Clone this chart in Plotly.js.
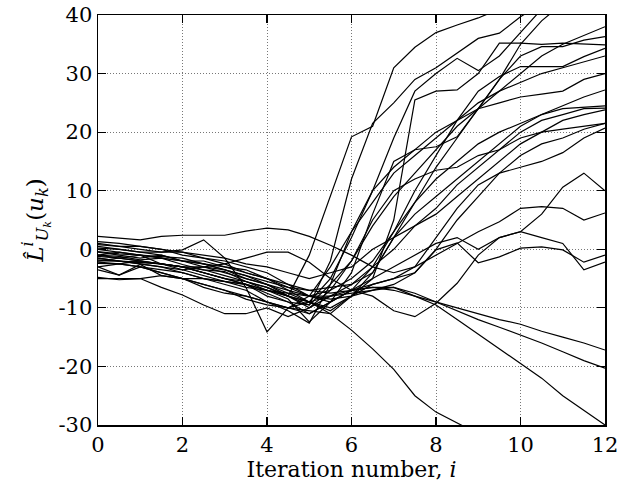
<!DOCTYPE html>
<html>
<head>
<meta charset="utf-8">
<script src="https://cdn.plot.ly/plotly-3.0.1.min.js"></script>
<style>html,body{margin:0;padding:0;background:#fff}#chart{width:625px;height:495px}</style>
</head>
<body>
<div id="chart"></div>
<script>
// iteration numbers (x), every half step from 0 to 12
var iterations = [0,0.5,1,1.5,2,2.5,3,3.5,4,4.5,5,5.5,6,6.5,7,7.5,8,8.5,9,9.5,10,10.5,11,11.5,12];

var run01 = [-1.0,-1.2,-1.8,-1.5,-2.6,-3.5,-3.8,-5.5,-6.5,-8.0,-1.0,9.0,19.2,21.0,31.0,34.5,37.0,38.3,39.5,41,42,43,44,45,46];
var run02 = [-2.0,-1.5,-1.0,-2.5,-3.0,-4.0,-5.0,-6.0,-7.5,-9.0,-9.5,-2.0,12.0,21.5,25.0,29.0,31.0,33.5,36.0,36.9,39.7,42,43,44,45];
var run03 = [0.2,0.0,-0.5,-1.0,-2.0,-2.5,-3.5,-4.5,-6.0,-7.5,-9.0,-10.5,-8.0,-5.0,5.0,25.5,27.0,27.2,30.0,35.2,35.2,35.0,35.2,35.0,34.9];
var run04 = [-1.5,-2,-2.5,-3,-3.5,-3,-4,-5,-6,-8,-10,-7,-2,4,9,13,17,21,24,27,30,33,35,36.5,38];
var run05 = [-0.5,-1,-1.5,-1,-2,-2.5,-3,-4,-5,-7,-9,-5,2,10,19,27,30,32.6,30.5,33,37,41,44,45,46];
var run06 = [-3,-2.5,-3,-3.5,-4,-5,-5.5,-6,-8,-9,-11,-9,-4,6,15,17,17.5,19.2,24,29,35,39,42,44,45];
var run07 = [-1,-0.5,-1,-1.5,-2,-2,-3,-3.5,-5,-6,-7,-6.5,-6,-4,2,8,14,19,24,29,33,34.6,34.6,35.7,36.3];
var run08 = [0.8,0.5,0,-0.5,-0.5,-1.5,-2,-3,-4,-6,-8,-9,-7,-3,3,10,16,22,27,29.5,31.2,31.2,31.2,32.9,34.3];
var run09 = [-2.2,-2.5,-3,-4,-5,-6,-7,-8.5,-9.5,-10,-10.5,-11,-8,-4,2,6,9,12,15,18,21,23,24.5,26,27.2];
var run10 = [-1.8,-2,-2.2,-2.5,-3,-4,-5,-6,-7,-8,-9.5,-6,-2,5,10,12,13.5,14,16,17,20,22,23,24,24.1];
var run11 = [1.3,1,0.5,0,-0.5,-1,-1.5,-2.5,-3,-4,-5,-4,-3,0,2,4,6,9,12,15,18,20,22,23,23.8];
var run12 = [-3.5,-4.4,-3,-4,-5,-6.5,-7.5,-8,-9,-10,-11,-9,-7,-6,-5,-4,0,5,9,13,16,18,19,20.5,21.5];
var run13 = [-0.4,-0.8,-1,-1.2,-1.5,-2.5,-3.5,-5,-6,-7,-8,-8.5,-8,-6,-5,-3,2,7,11,13,14,15,16.5,19,20.7];
var run14 = [-1.2,-1.5,-2,-2.5,-3,-3.5,-4.5,-5.5,-7,-8.5,-12.4,-9,-7,-8,-10.5,-11.5,-9.2,-5.8,-1,2,3,6,10.6,13,10];
var run15 = [2.2,1.9,1.6,2.2,2.4,2.4,2.4,3.1,3.6,3.3,2.2,0.7,-1,-3,-4,-3,-1,1,3,4.7,7,7.3,7,5,6.2];
var run16 = [-4.8,-5.2,-5,-4.5,-5,-5,-5.5,-6,-7,-8,-9,-10,-8,-7,-6,-4,-0.1,1.1,-2.3,-1.3,0.2,0.4,-0.1,-2.2,-1];
var run17 = [-2.4,-2.5,-2,-2.5,-3,-3,-2.5,-1.5,-0.5,-0.5,-2.2,-5,-7,-5,-3,-1,1,2,0,2,3,2,1,-3.5,-2.2];
var run18 = [-1,-1.5,-2,-2.5,-3,-4,-5,-5.5,-6.5,-8,-9,-8,-7,-6.5,-7,-8,-9,-10,-11,-12,-12.8,-14,-15,-16,-17.2];
var run19 = [0,-0.5,-1,-1.5,-2,-3,-3.5,-4.5,-5.5,-6.5,-7,-7.5,-7,-6.5,-6.5,-7.5,-9,-10.5,-12,-13.3,-14.6,-16,-17.5,-19,-20.3];
var run20 = [-1.5,-2,-2.2,-2.5,-3.5,-4.5,-5.5,-6.5,-7,-7.5,-8,-8,-7.5,-7,-6.5,-8,-9.5,-12,-14.5,-17,-19.5,-22,-25,-27.5,-30];
var run21 = [-3,-4.4,-2.6,-4.5,-5,-6,-7,-8,-9,-10,-9,-11,-13.8,-17,-20.5,-25,-27.8,-29.6,-31.5,-33,-35,-37,-39,-41,-43];
var run22 = [0.5,0,-0.5,-0.5,-0.1,1.6,-1.5,-6.5,-14.1,-10,-8,-3,3,8,13,16,19,22,25,27,28.5,30,31,32,33];
var run23 = [-2,-2,-2.5,-3,-4,-5,-6,-7,-9,-10.5,-12.6,-6,3,10,14,17,20,22,24,25,26,26.5,27,29,30];
var run24 = [1,0.5,0.5,0,-1,-1.5,-2.5,-4,-5,-6.5,-8,-7,-5,-2,3,8,12,15,18,20,21.5,23,24,24.2,24.5];
var run25 = [-5,-5,-5,-6.5,-7.8,-9.5,-11,-11,-10,-11.5,-10,-8,-6,-3,0,4,7,11,14,17,19,20,20.5,21,21.5];

var runs = [run01,run02,run03,run04,run05,run06,run07,run08,run09,run10,run11,run12,run13,
            run14,run15,run16,run17,run18,run19,run20,run21,run22,run23,run24,run25];

var yTicks = [-30,-20,-10,0,10,20,30,40];
var yTickText = ['-30','-20','-10','0','10','20','30','40'];
var xTicks = [0,2,4,6,8,10,12];

var traces = runs.map(function(r){
  return {x: iterations, y: r, type: 'scatter', mode: 'lines',
          line: {color: '#000', width: 1.2}, hoverinfo: 'skip', showlegend: false};
});

var serif = 'DejaVu Serif';
var font = {family: serif, size: 21, color: '#000'};

var layout = {
  width: 625, height: 495,
  margin: {l: 98, r: 20, t: 15, b: 70},
  paper_bgcolor: '#fff', plot_bgcolor: '#fff',
  font: font,
  showlegend: false,
  xaxis: {
    range: [0, 12], tickvals: xTicks, ticktext: xTicks.map(String),
    ticks: 'inside', ticklen: 8, tickcolor: '#000', tickwidth: 1.2,
    showline: true, linecolor: '#000', linewidth: 1.5, mirror: 'ticks',
    showgrid: true, gridcolor: '#777', griddash: '1px,2px', gridwidth: 1,
    zeroline: false, tickfont: {family: serif, size: 21, color: '#000'},
    title: {text: 'Iteration number, <i>i</i>', font: {family: serif, size: 22, color: '#000'}, standoff: 6}
  },
  yaxis: {
    range: [-30, 40], tickvals: yTicks, ticktext: yTickText,
    ticks: 'inside', ticklen: 8, tickcolor: '#000', tickwidth: 1.2,
    showline: true, linecolor: '#000', linewidth: 1.5, mirror: 'ticks',
    showgrid: true, gridcolor: '#777', griddash: '1px,2px', gridwidth: 1,
    zeroline: false, tickfont: {family: serif, size: 21, color: '#000'},
    title: {text: '<i>L̂</i><sup><i>i</i></sup><sub><i>U<sub>k</sub></i></sub>(<i>u<sub>k</sub></i>)', font: {family: serif, size: 23, color: '#000'}, standoff: 8}
  }
};

Plotly.newPlot('chart', traces, layout, {staticPlot: true, displayModeBar: false});
</script>
</body>
</html>
